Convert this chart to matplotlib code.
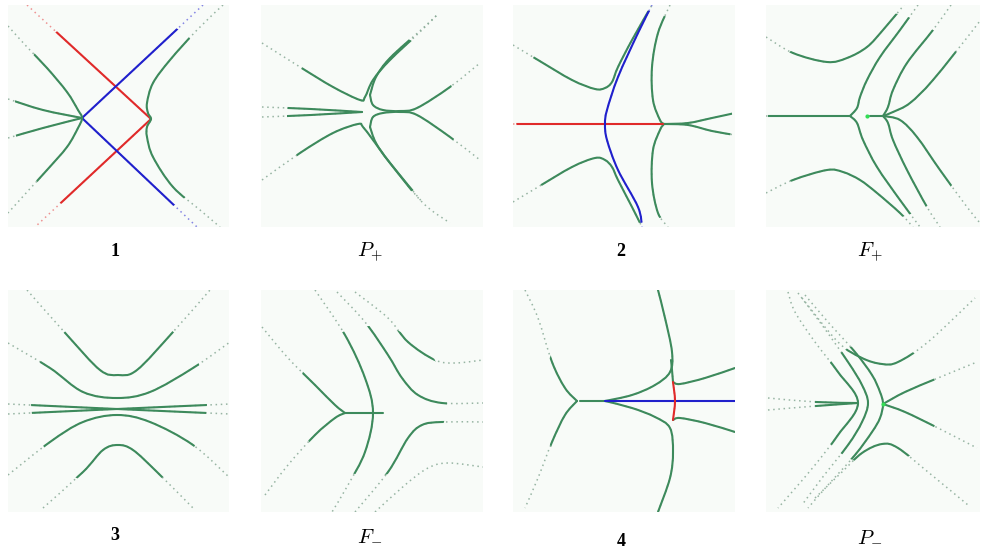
import numpy as np
import matplotlib
matplotlib.use("Agg")
import matplotlib.pyplot as plt
from matplotlib.path import Path
from matplotlib.patches import PathPatch, Circle

plt.rcParams['mathtext.fontset'] = 'cm'

# ---------------- data (panel-local pixel coordinates) ----------------
# Panel 1
p1_red = [(19, 0), (143, 114), (27, 222)]
p1_blue = [(195, 0), (74, 113), (189, 222)]
p1_left = [(0, 21), (19, 42), (39, 63), (59, 87), (70, 105), (74, 113), (70, 123), (59, 142), (39, 165), (19, 187), (0, 208)]
p1_pair_a = [(0, 94), (35, 105), (74, 113)]
p1_pair_b = [(0, 133), (35, 123), (74, 113)]
p1_right = [(215, 0), (189, 25), (162, 55), (145, 78), (139, 98), (140, 108), (143, 114), (139, 122), (139, 132), (145, 152), (165, 182), (192, 205), (212, 222)]

# Panel P+
pp_a = [(1, 38), (39, 62), (72, 82), (99, 95), (104, 92), (112, 75), (129, 55), (161, 25), (176, 10)]
pp_pair_a = [(1, 102), (50, 104), (101, 107)]
pp_pair_b = [(1, 112), (50, 110), (101, 107)]
pp_c = [(1, 175), (39, 148), (72, 128), (97, 119), (102, 122), (112, 135), (129, 158), (162, 198), (189, 218)]
pp_d_up = [(109, 90), (115, 72), (129, 53), (161, 24), (176, 10)]
pp_d = [(109, 90), (112, 100), (122, 105), (139, 106), (156, 103), (189, 82), (219, 58)]
pp_e_dn = [(109, 122), (115, 138), (129, 158), (162, 198)]
pp_e = [(109, 122), (112, 112), (122, 108), (139, 107), (156, 110), (189, 132), (219, 155)]

# Panel 2
p2_red = [(0, 119), (150, 119)]
p2_blue = [(139, 0), (125, 28), (105, 72), (94, 105), (92, 119), (94, 135), (105, 165), (125, 202), (129, 222)]
p2_ul = [(0, 40), (25, 55), (59, 75), (82, 84), (92, 83), (99, 77), (105, 62), (119, 35), (139, 0)]
p2_ll = [(0, 197), (25, 182), (59, 162), (82, 153), (92, 155), (99, 162), (105, 175), (119, 202), (129, 222)]
p2_ru = [(157, 0), (145, 28), (139, 62), (140, 95), (147, 115), (151, 119)]
p2_rl = [(151, 119), (147, 125), (140, 145), (139, 178), (145, 208), (155, 222)]
p2_b1 = [(151, 119), (175, 118), (199, 113), (222, 108)]
p2_b2 = [(151, 119), (175, 120), (199, 126), (222, 130)]

# Panel F+
fp_h = [(0, 111), (84, 111)]
fp_dot = (101, 111)
fp_lc_up = [(84, 111), (91, 103), (94, 92), (101, 75), (114, 52), (134, 25), (152, 0)]
fp_lc_dn = [(84, 111), (91, 118), (97, 135), (111, 162), (134, 195), (154, 222)]
fp_tl = [(0, 32), (27, 48), (61, 57), (81, 53), (101, 42), (117, 25), (138, 0)]
fp_bl = [(0, 188), (27, 175), (61, 165), (77, 167), (94, 175), (111, 188), (134, 208), (147, 222)]
fp_node = [(104, 111), (117, 111)]
fp_up1 = [(117, 111), (122, 102), (127, 85), (141, 58), (167, 25), (185, 0)]
fp_up2 = [(117, 111), (127, 107), (144, 98), (167, 75), (207, 25), (222, 5)]
fp_dn1 = [(117, 111), (122, 118), (127, 135), (141, 165), (161, 202), (174, 222)]
fp_dn2 = [(117, 111), (134, 115), (151, 132), (174, 165), (201, 202), (214, 218)]

# Panel 3
p3_c1 = [(19, 0), (59, 45), (92, 80), (110, 85), (129, 80), (165, 42), (202, 0)]
p3_c2 = [(0, 53), (42, 78), (75, 102), (109, 108), (142, 102), (185, 78), (222, 52)]
p3_xa = [(0, 114), (109, 119), (222, 124)]
p3_xb = [(0, 124), (109, 119), (222, 114)]
p3_c3 = [(0, 185), (42, 152), (75, 132), (109, 125), (142, 132), (185, 155), (222, 188)]
p3_c4 = [(35, 218), (75, 182), (95, 160), (110, 155), (125, 160), (149, 182), (185, 218)]

# Panel F-
fm_lu = [(1, 37), (27, 68), (54, 95), (74, 115), (84, 123)]
fm_ll = [(4, 205), (27, 175), (54, 145), (74, 128), (84, 123)]
fm_h = [(84, 123), (122, 123)]
fm_arc = [(54, 0), (84, 45), (104, 88), (112, 123), (104, 162), (87, 195), (71, 222)]
fm_r1 = [(94, 2), (127, 28), (147, 52), (174, 70), (194, 73), (222, 70)]
fm_r2 = [(76, 2), (104, 32), (127, 65), (141, 88), (157, 105), (181, 113), (222, 113)]
fm_r3 = [(94, 222), (127, 182), (147, 148), (161, 135), (181, 132), (222, 132)]
fm_r4 = [(114, 222), (144, 195), (167, 178), (187, 173), (222, 177)]

# Panel 4
p4_arc_up = [(12, 0), (25, 28), (39, 72), (52, 98), (64, 111)]
p4_arc_dn = [(64, 111), (52, 125), (39, 152), (25, 188), (12, 218)]
p4_h = [(67, 111), (95, 111)]
p4_blue = [(92, 111), (222, 111)]
p4_up = [(92, 111), (119, 105), (142, 95), (157, 82), (159, 62), (152, 28), (145, 0)]
p4_dn = [(92, 111), (119, 118), (142, 127), (157, 138), (160, 162), (157, 188), (145, 222)]
p4_vert = [(158, 70), (159, 80), (160, 92)]
p4_red = [(160, 92), (162, 111), (160, 130)]
p4_ru = [(160, 92), (167, 94), (192, 88), (222, 78)]
p4_rl = [(160, 130), (167, 128), (192, 133), (222, 142)]

# Panel P-
pm_pair_a = [(2, 108), (50, 112), (92, 113)]
pm_pair_b = [(2, 120), (50, 116), (92, 113)]
pm_ch1 = [(22, 2), (29, 22), (49, 52), (72, 82), (92, 113), (72, 145), (49, 175), (26, 202), (12, 218)]
pm_ch2 = [(32, 3), (56, 35), (82, 72), (96, 95), (102, 113), (96, 132), (82, 155), (56, 188), (36, 215)]
pm_ch3 = [(39, 5), (62, 32), (89, 62), (106, 85), (114, 102), (117, 114), (114, 128), (106, 142), (89, 165), (62, 195), (42, 218)]
pm_ru = [(117, 114), (139, 102), (172, 88), (211, 72)]
pm_rl = [(117, 114), (139, 122), (172, 138), (211, 158)]
pm_top = [(36, 8), (72, 52), (96, 68), (116, 74), (132, 72), (162, 52), (209, 8)]
pm_bot = [(49, 208), (76, 182), (96, 163), (116, 154), (132, 158), (162, 182), (202, 215)]
pm_dot = (117, 114)

labels = ['1', r'$P_{+}$', '2', r'$F_{+}$', '3', r'$F_{-}$', '4', r'$P_{-}$']

# ---------------- drawing ----------------
W, H = 981, 554
fig = plt.figure(figsize=(W / 100, H / 100), dpi=100)
fig.patch.set_facecolor('white')

GREEN = '#3d8a5c'
DOTG = '#86a894'
RED = '#e02a2a'
BLUE = '#2020cc'
BG = '#f8fbf8'


def make_axes(x0, y0, w, h):
    ax = fig.add_axes([x0 / W, 1 - (y0 + h) / H, w / W, h / H])
    ax.set_xlim(0, w)
    ax.set_ylim(h, 0)
    ax.set_facecolor(BG)
    ax.set_xticks([])
    ax.set_yticks([])
    for s in ax.spines.values():
        s.set_visible(False)
    return ax


def build_path(pts, smooth=True):
    p = np.asarray(pts, float)
    if not smooth or len(p) < 3:
        return Path(p, [Path.MOVETO] + [Path.LINETO] * (len(p) - 1))
    ext = np.vstack([p[0], p, p[-1]])
    verts = [p[0]]
    codes = [Path.MOVETO]
    for i in range(len(p) - 1):
        q0, q1, q2, q3 = ext[i], ext[i + 1], ext[i + 2], ext[i + 3]
        c1 = q1 + (q2 - q0) / 6.0
        c2 = q2 - (q3 - q1) / 6.0
        verts += [c1, c2, q2]
        codes += [Path.CURVE4] * 3
    return Path(np.array(verts), codes)


def draw(ax, pts, center, r, color=GREEN, dot=DOTG, smooth=True, lw=1.5):
    path = build_path(pts, smooth)
    ax.add_patch(PathPatch(path, fill=False, ec=dot, lw=1.1, ls=(0, (1, 2.4)), alpha=0.85))
    solid = PathPatch(path, fill=False, ec=color, lw=lw, capstyle='round', joinstyle='round')
    ax.add_patch(solid)
    clip = Circle(center, r, transform=ax.transData)
    solid.set_clip_path(clip)


# panel rectangles (x, y, w, h) in figure pixels
rects = [(8, 5, 221, 222), (261, 5, 222, 222), (513, 5, 222, 222), (766, 5, 214, 222),
         (8, 290, 221, 222), (261, 290, 222, 222), (513, 290, 222, 222), (766, 290, 214, 222)]
axs = [make_axes(*r) for r in rects]

# Panel 1
ax = axs[0]; c = (111, 111); R = 105
draw(ax, p1_red, c, R, color=RED, dot='#ec8080', smooth=False)
draw(ax, p1_blue, c, R, color=BLUE, dot='#7070e0', smooth=False)
for cur in (p1_left, p1_pair_a, p1_pair_b, p1_right):
    draw(ax, cur, c, R)

# Panel P+
ax = axs[1]; c = (111, 111); R = 85
for cur in (pp_a, pp_pair_a, pp_pair_b, pp_c, pp_d_up, pp_d, pp_e_dn, pp_e):
    draw(ax, cur, c, R)

# Panel 2
ax = axs[2]; c = (111, 111); R = 108
for cur in (p2_ul, p2_ll, p2_ru, p2_rl, p2_b1, p2_b2):
    draw(ax, cur, c, R)
draw(ax, p2_red, c, R, color=RED, dot='#ec8080', smooth=False)
draw(ax, p2_blue, c, R, color=BLUE, dot='#7070e0')

# Panel F+
ax = axs[3]; c = (107, 111); R = 105
for cur in (fp_h, fp_lc_up, fp_lc_dn, fp_tl, fp_bl, fp_node, fp_up1, fp_up2, fp_dn1, fp_dn2):
    draw(ax, cur, c, R)
ax.plot([fp_dot[0]], [fp_dot[1]], 'o', color='#33dd55', ms=3, mec='none')

# Panel 3
ax = axs[4]; c = (111, 111); R = 88
for cur in (p3_c1, p3_c2, p3_xa, p3_xb, p3_c3, p3_c4):
    draw(ax, cur, c, R)

# Panel F-
ax = axs[5]; c = (111, 111); R = 75
for cur in (fm_lu, fm_ll, fm_h, fm_arc, fm_r1, fm_r2, fm_r3, fm_r4):
    draw(ax, cur, c, R)

# Panel 4
ax = axs[6]; c = (140, 111); R = 112
for cur in (p4_arc_up, p4_arc_dn, p4_h, p4_up, p4_dn, p4_vert, p4_ru, p4_rl):
    draw(ax, cur, c, R)
draw(ax, p4_blue, c, R, color=BLUE, dot='#7070e0', smooth=False)
draw(ax, p4_red, c, R, color=RED, dot='#ec8080')

# Panel P-
ax = axs[7]; c = (111, 113); R = 62
for cur in (pm_pair_a, pm_pair_b, pm_ch1, pm_ch2, pm_ch3, pm_ru, pm_rl, pm_top, pm_bot):
    draw(ax, cur, c, R)
ax.plot([pm_dot[0]], [pm_dot[1]], 'o', color='#33dd55', ms=3, mec='none')

# labels
label_pos = [(115, 252), (370, 252), (621, 252), (870, 252),
             (115, 535), (370, 535), (621, 541), (870, 536)]
for lab, (x, y) in zip(labels, label_pos):
    if lab.startswith('$'):
        fig.text(x / W, 1 - y / H, lab, ha='center', va='center', fontsize=15)
    else:
        fig.text(x / W, 1 - y / H, lab, ha='center', va='center', fontsize=13,
                 fontweight='bold', family='Liberation Serif')

fig.savefig('out.png', dpi=100)
